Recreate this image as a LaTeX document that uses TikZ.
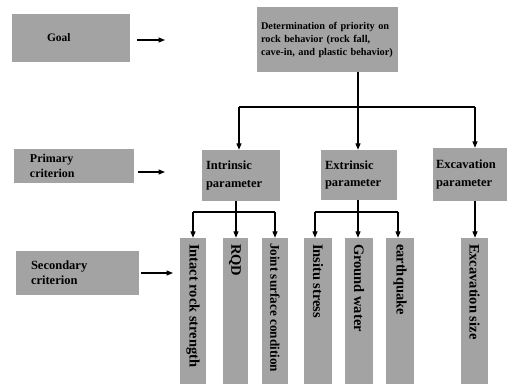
\documentclass[tikz,border=0pt]{standalone}
\usepackage{fontspec}
\setmainfont{Liberation Serif}
\usetikzlibrary{arrows.meta}
\begin{document}
\begin{tikzpicture}[x=1pt,y=-1pt,
  gbox/.style={fill=black!36, draw=none, inner ysep=0pt, align=left},
  hfont/.style={font=\bfseries\fontsize{12.5}{17.5}\selectfont},
  dfont/.style={font=\bfseries\fontsize{10.3}{13}\selectfont},
  vbox/.style={fill=black!36, draw=none, inner sep=0pt, minimum height=146pt},
  vtext/.style={rotate=-90, anchor=west, inner sep=0pt, font=\bfseries\fontsize{14.5}{16}\selectfont},
  conn/.style={line width=1.2pt},
  arr/.style={line width=1.2pt, -{Triangle[length=6.5pt,width=5pt]}}]
\useasboundingbox (0,0) rectangle (512,384);

% level boxes
\node[gbox, font=\bfseries\fontsize{11.5}{13}\selectfont, inner xsep=35pt, text width=48pt, minimum height=48pt] (goal) at (71,38) {Goal};
\node[gbox, dfont, inner xsep=4pt, text width=133pt, minimum height=65pt] (det) at (327.5,39.5)
  {\mbox{Determination of priority on}\\\mbox{rock behavior (rock fall,}\\\mbox{cave-in, and plastic behavior)}};

\node[gbox, font=\bfseries\fontsize{12}{14.5}\selectfont, inner xsep=16pt, text width=88pt, minimum height=34pt] (prim) at (74,166) {Primary\\criterion};
\node[gbox, hfont, inner xsep=4pt, text width=70pt, minimum height=51pt] (intr) at (241,175.5) {Intrinsic\\parameter};
\node[gbox, hfont, inner xsep=4pt, text width=68pt, minimum height=50pt] (extr) at (359,175) {Extrinsic\\parameter};
\node[gbox, hfont, inner xsep=3pt, text width=68pt, minimum height=53pt] (exc) at (470,174.5) {Excavation\\parameter};

\node[gbox, font=\bfseries\fontsize{12.5}{15}\selectfont, inner xsep=15pt, text width=93pt, minimum height=44pt] (sec) at (77.5,273) {Secondary\\criterion};

% vertical boxes
\node[vbox, minimum width=26pt] (v1) at (193,311) {};
\node[vbox, minimum width=25pt] (v2) at (235,311) {};
\node[vbox, minimum width=26pt] (v3) at (275,311) {};
\node[vbox, minimum width=28pt] (v4) at (318,311) {};
\node[vbox, minimum width=28pt] (v5) at (359,311) {};
\node[vbox, minimum width=28pt] (v6) at (400,311) {};
\node[vbox, minimum width=27pt] (v7) at (474.5,311) {};

\node[vtext] (t1) at ([yshift=-6pt]v1.north) {Intact rock strength};
\node[vtext] (t2) at ([yshift=-6pt]v2.north) {RQD};
\node[vtext, font=\bfseries\fontsize{13.2}{15}\selectfont] (t3) at ([yshift=-5pt]v3.north) {Joint surface condition};
\node[vtext] (t4) at ([yshift=-6pt]v4.north) {Insitu stress};
\node[vtext] (t5) at ([yshift=-6pt]v5.north) {Ground water};
\node[vtext] (t6) at ([yshift=-6pt]v6.north) {earthquake};
\node[vtext] (t7) at ([yshift=-6pt]v7.north) {Excavation size};

% level arrows
\coordinate (ga0) at (137,40);  \coordinate (ga1) at (165,40);
\coordinate (pa0) at (138,172); \coordinate (pa1) at (165,172);
\coordinate (sa0) at (141,273); \coordinate (sa1) at (173,273);
\draw[arr] (ga0) -- (ga1);
\draw[arr] (pa0) -- (pa1);
\draw[arr] (sa0) -- (sa1);

% top tree
\coordinate (j0) at (358,107);
\coordinate (jl) at (239,107);
\coordinate (jr) at (475,107);
\draw[conn] (det.south -| j0) -- (j0);
\draw[conn] (jl) -- (jr);
\draw[arr] (jl) -- (jl |- intr.north);
\draw[arr] (j0) -- (j0 |- extr.north);
\draw[arr] (jr) -- (jr |- exc.north);

% intrinsic subtree
\coordinate (i0) at (236,212);
\coordinate (il) at (193,212);
\coordinate (ir) at (275,212);
\draw[conn] (intr.south -| i0) -- (i0);
\draw[conn] (il) -- (ir);
\draw[arr] (il) -- (il |- v1.north);
\draw[arr] (i0) -- (i0 |- v2.north);
\draw[arr] (ir) -- (ir |- v3.north);

% extrinsic subtree
\coordinate (e0) at (358,212);
\coordinate (el) at (315,212);
\coordinate (er) at (398,212);
\draw[conn] (extr.south -| e0) -- (e0);
\draw[conn] (el) -- (er);
\draw[arr] (el) -- (el |- v4.north);
\draw[arr] (e0) -- (e0 |- v5.north);
\draw[arr] (er) -- (er |- v6.north);

% excavation
\draw[arr] (exc.south -| jr) -- (jr |- v7.north);
\end{tikzpicture}
\end{document}
